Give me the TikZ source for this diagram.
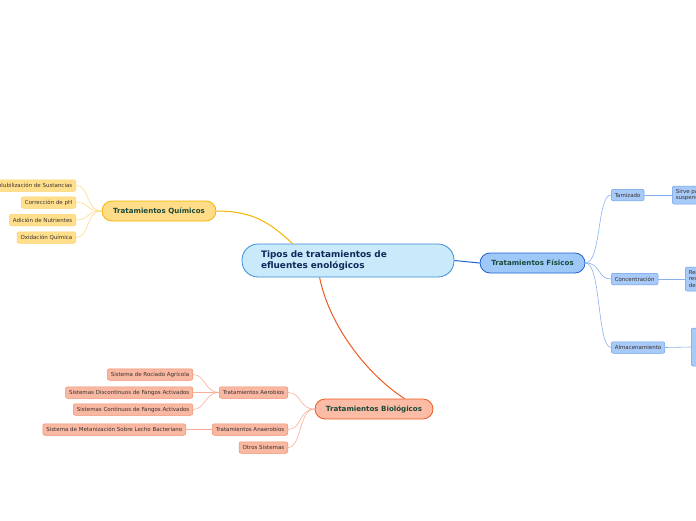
\documentclass[tikz,border=0pt]{standalone}
\usepackage{fontspec}
\setmainfont{DejaVu Sans}
\usepackage{xcolor}
\usetikzlibrary{positioning}
\definecolor{raizfill}{HTML}{C8EAFB}
\definecolor{raizline}{HTML}{3C8CD8}
\definecolor{raiztext}{HTML}{0E2A5A}
\definecolor{ramatext}{HTML}{1B4A3A}
\definecolor{hojatext}{HTML}{3A3030}
\definecolor{quimfill}{HTML}{FFDC88}
\definecolor{quimline}{HTML}{F5B400}
\definecolor{quimhoja}{HTML}{FFDF8C}
\definecolor{quimborde}{HTML}{FCD36C}
\definecolor{fisfill}{HTML}{9EC8F8}
\definecolor{fisline}{HTML}{1F62CC}
\definecolor{fishoja}{HTML}{A8CAF8}
\definecolor{fisborde}{HTML}{6A9DEB}
\definecolor{biofill}{HTML}{FBBBA5}
\definecolor{bioline}{HTML}{EC5A22}
\definecolor{biohoja}{HTML}{F9B8A2}
\definecolor{bioborde}{HTML}{F28C6C}

\begin{document}
\begin{tikzpicture}[x=1pt,y=-1pt,
  raiz/.style={draw=raizline,fill=raizfill,line width=0.8pt,rounded corners=16pt,
    minimum height=33pt,text width=174pt,inner xsep=19pt,align=left,
    font=\bfseries\fontsize{8.9}{10.5}\selectfont,text=raiztext},
  rama/.style={rounded corners=10pt,minimum height=20pt,line width=0.8pt,
    font=\bfseries\fontsize{7.1}{8}\selectfont,text=ramatext},
  hoja/.style={rounded corners=2pt,minimum height=11.5pt,inner xsep=3.5pt,inner ysep=1pt,
    line width=0.5pt,font=\fontsize{5.5}{6.3}\selectfont,text=hojatext},
  qhoja/.style={hoja,draw=quimborde,fill=quimhoja},
  fhoja/.style={hoja,draw=fisborde,fill=fishoja},
  bhoja/.style={hoja,draw=bioborde,fill=biohoja},
  qlink/.style={draw=quimborde!80,line width=0.6pt},
  flink/.style={draw=fisborde!80,line width=0.6pt},
  blink/.style={draw=bioborde!70,line width=0.6pt}
]
\clip (0,0) rectangle (696,520);
\useasboundingbox (0,0) rectangle (696,520);

\node[raiz] (tipos) at (348,260.5) {Tipos de tratamientos de\\efluentes enológicos};

\node[rama,draw=quimline,fill=quimfill,minimum width=114pt] (quimicos) at (159,211) {Tratamientos Químicos};
\node[rama,draw=fisline,fill=fisfill,minimum width=105pt] (fisicos) at (532.5,263) {Tratamientos Físicos};
\node[rama,draw=bioline,fill=biofill,minimum width=118pt] (biologicos) at (374,409) {Tratamientos Biológicos};

\draw[quimline,line width=1pt] (quimicos.east) .. controls +(38,0) and +(-22,-20) .. ([xshift=51pt]tipos.north west);
\draw[fisline,line width=1pt] (tipos.east) -- (fisicos.west);
\draw[bioline,line width=1pt] ([xshift=78pt]tipos.south west) .. controls +(10,50) and +(-35,-22) .. ([xshift=90pt]biologicos.north west);

% quimicos
\node[qhoja,anchor=east] (solub) at (76,185.5) {Solubilización de Sustancias};
\node[qhoja,anchor=east] (correc) at (76,202.5) {Corrección de pH};
\node[qhoja,anchor=east] (adicion) at (76,220) {Adición de Nutrientes};
\node[qhoja,anchor=east] (oxid) at (76,237.5) {Oxidación Química};
\foreach \h in {solub,correc,adicion,oxid}
  \draw[qlink] (quimicos.west) .. controls +(-16,0) and +(14,0) .. (\h.east);

% fisicos
\node[fhoja,anchor=west] (tamiz) at (611,195) {Tamizado};
\node[fhoja,anchor=west] (concen) at (611,279) {Concentración};
\node[fhoja,anchor=west] (almac) at (611,347.5) {Almacenamiento};
\foreach \h in {tamiz,concen,almac}
  \draw[flink] (fisicos.east) .. controls +(16,0) and +(-14,0) .. (\h.west);

\node[fhoja,anchor=west,align=left,minimum height=18pt,inner ysep=1.5pt,font=\fontsize{5.5}{6}\selectfont] (tamizdesc) at (672,195) {Sirve para separar sólidos\\suspendidos};
\node[fhoja,anchor=west,align=left,minimum height=24pt,inner ysep=1.5pt,font=\fontsize{5.5}{6.5}\selectfont] (concendesc) at (685,279) {Reduce el\\residuo\\del agua};
\node[fhoja,anchor=west,minimum height=38pt,minimum width=40pt] (almacdesc) at (691,347) {};
\draw[flink] (tamiz.east) -- (tamizdesc.west);
\draw[flink] (concen.east) -- (concendesc.west);
\draw[flink] (almac.east) -- (almacdesc.west);

% biologicos
\node[bhoja,anchor=east] (aerob) at (288,392.5) {Tratamientos Aerobios};
\node[bhoja,anchor=east] (anaerob) at (288,429.5) {Tratamientos Anaerobios};
\node[bhoja,anchor=east] (otros) at (288,447.5) {Otros Sistemas};
\foreach \h in {aerob,anaerob,otros}
  \draw[blink] (biologicos.west) .. controls +(-16,0) and +(14,0) .. (\h.east);

\node[bhoja,anchor=east] (rociado) at (193,374.5) {Sistema de Rociado Agrícola};
\node[bhoja,anchor=east] (discont) at (193,392.5) {Sistemas Discontinuos de Fangos Activados};
\node[bhoja,anchor=east] (contin) at (193,409.5) {Sistemas Continuos de Fangos Activados};
\foreach \h in {rociado,discont,contin}
  \draw[blink] (aerob.west) .. controls +(-14,0) and +(12,0) .. (\h.east);

\node[bhoja,anchor=east] (metan) at (186,429.5) {Sistema de Metanización Sobre Lecho Bacteriano};
\draw[blink] (anaerob.west) -- (metan.east);
\end{tikzpicture}
\end{document}
